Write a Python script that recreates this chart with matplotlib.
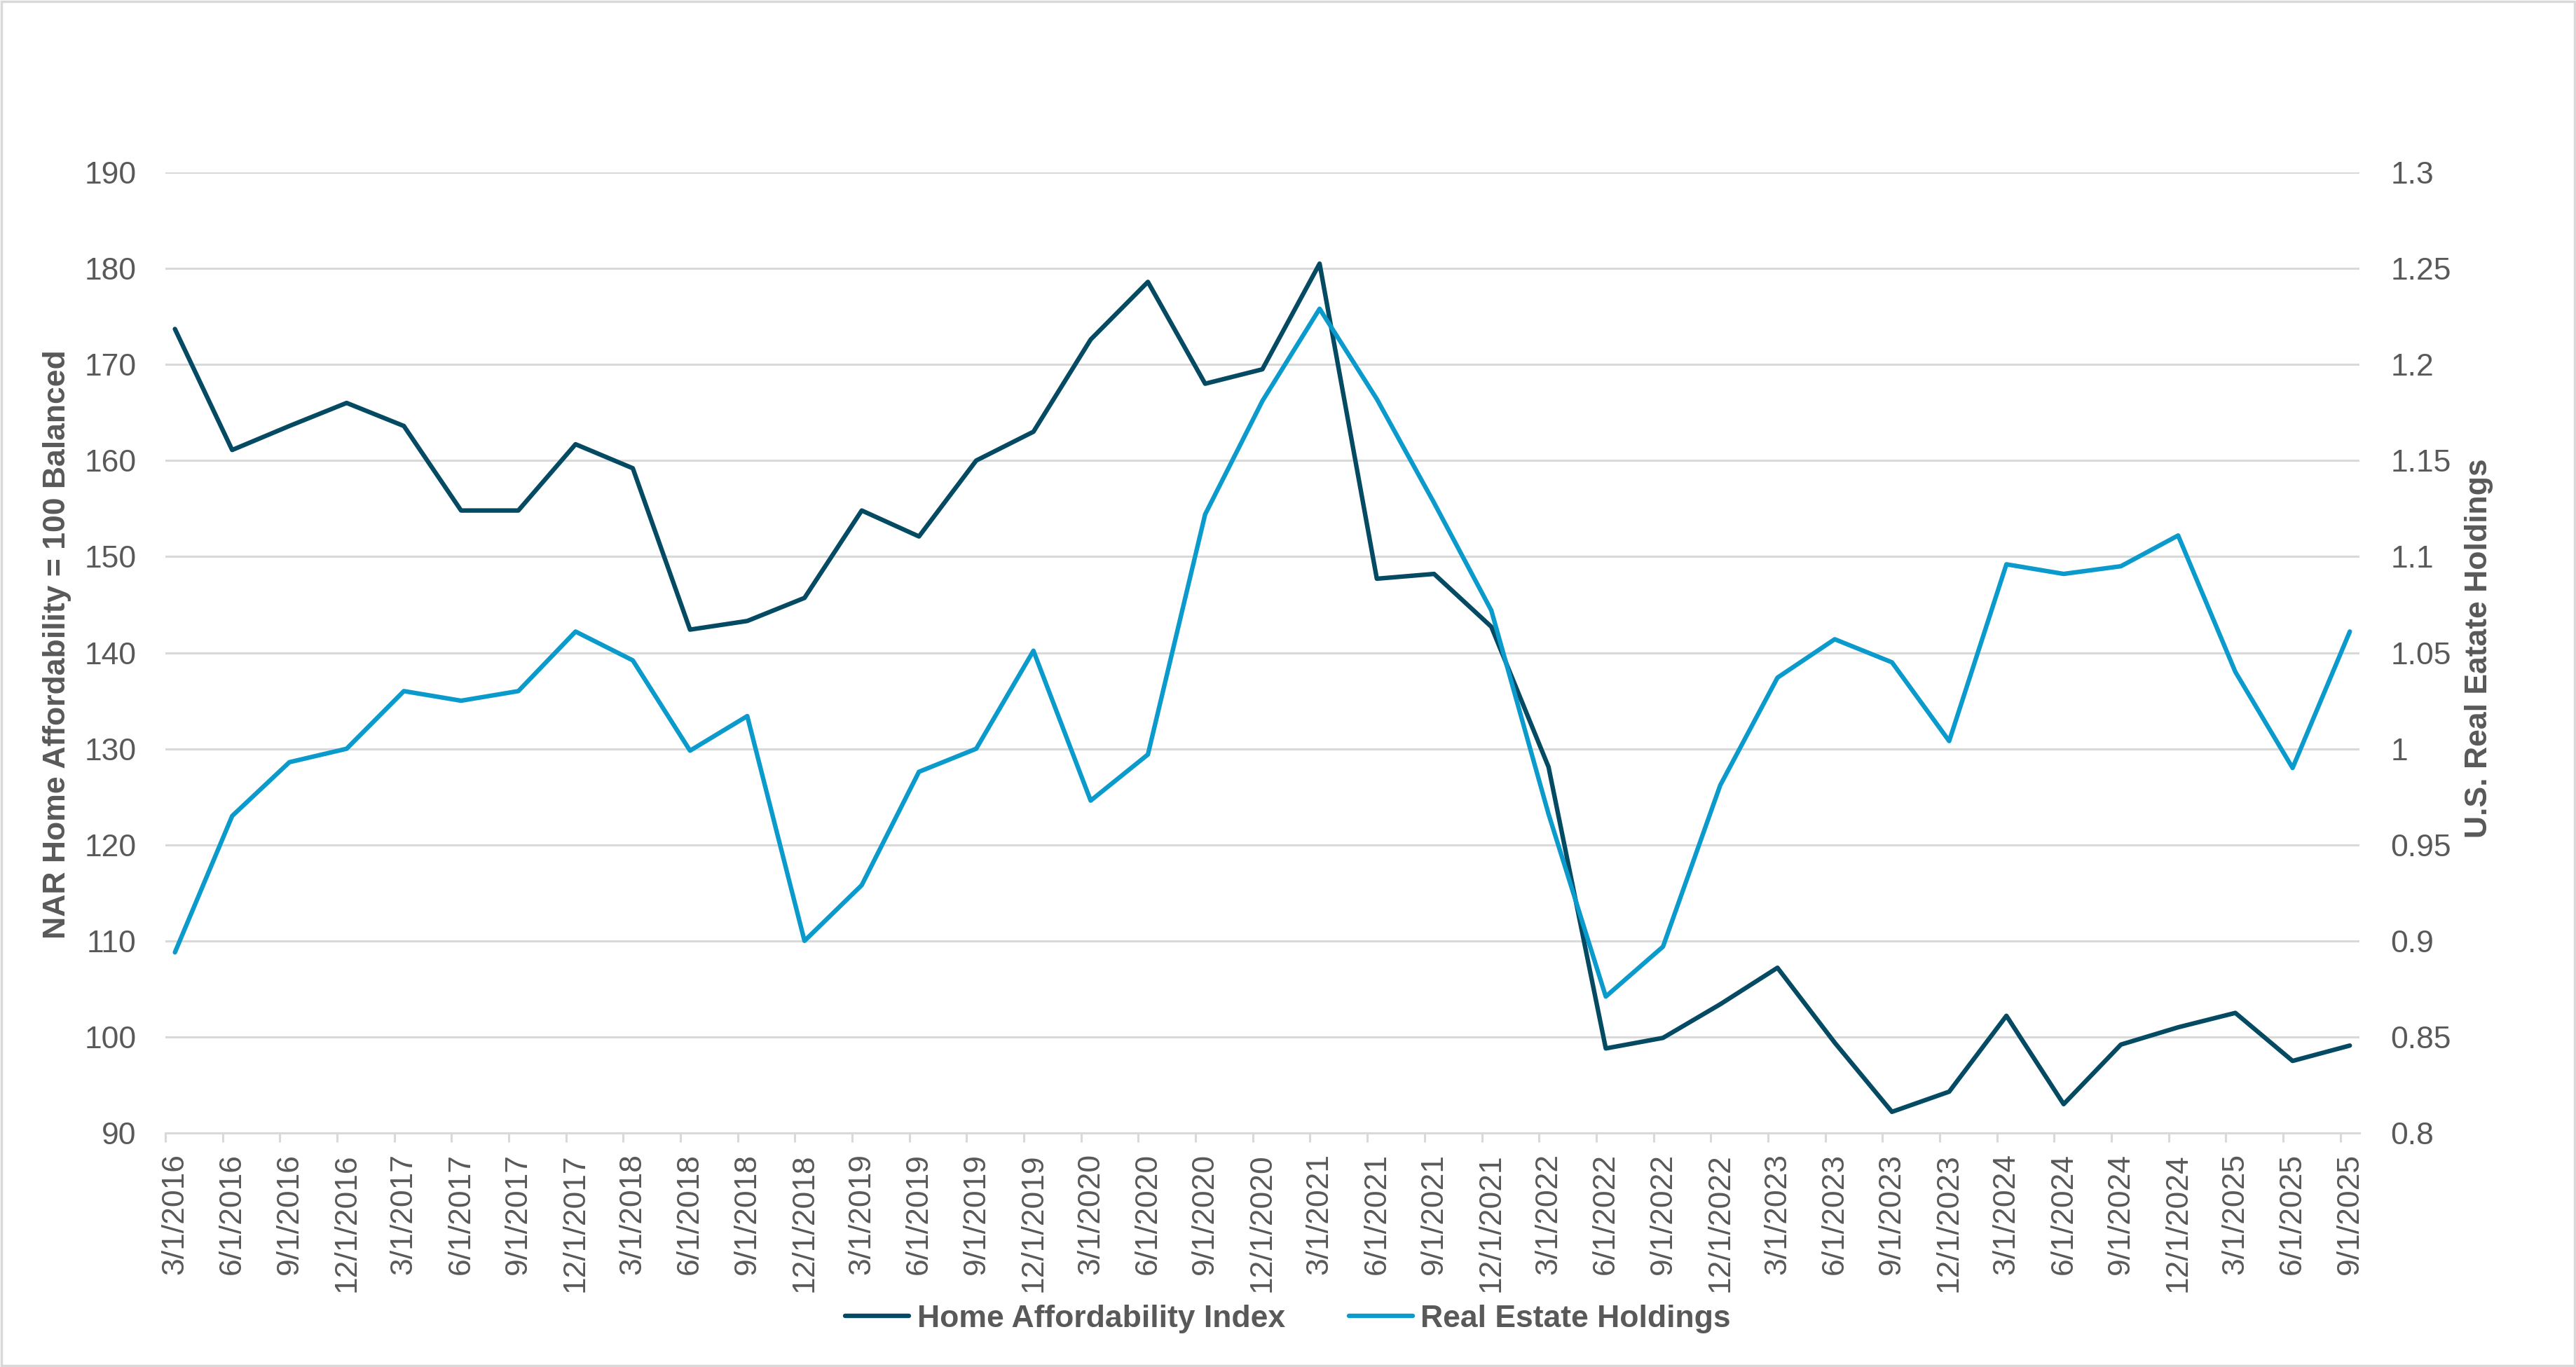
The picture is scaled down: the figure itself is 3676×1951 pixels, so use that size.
import matplotlib
matplotlib.use("Agg")
import matplotlib.pyplot as plt
from matplotlib.patches import Rectangle
from matplotlib.ticker import FixedLocator, FuncFormatter

plt.rcParams['font.family'] = ['Liberation Sans', 'DejaVu Sans']

# quarterly dates (category labels)
dates = ['3/1/2016', '6/1/2016', '9/1/2016', '12/1/2016',
         '3/1/2017', '6/1/2017', '9/1/2017', '12/1/2017',
         '3/1/2018', '6/1/2018', '9/1/2018', '12/1/2018',
         '3/1/2019', '6/1/2019', '9/1/2019', '12/1/2019',
         '3/1/2020', '6/1/2020', '9/1/2020', '12/1/2020',
         '3/1/2021', '6/1/2021', '9/1/2021', '12/1/2021',
         '3/1/2022', '6/1/2022', '9/1/2022', '12/1/2022',
         '3/1/2023', '6/1/2023', '9/1/2023', '12/1/2023',
         '3/1/2024', '6/1/2024', '9/1/2024', '12/1/2024',
         '3/1/2025', '6/1/2025', '9/1/2025']

# NAR home affordability index (left axis)
affordability = [173.7, 161.1, 163.6, 166.0,
                 163.6, 154.8, 154.8, 161.7,
                 159.2, 142.4, 143.3, 145.7,
                 154.8, 152.1, 160.0, 163.0,
                 172.6, 178.6, 168.0, 169.5,
                 180.5, 147.7, 148.2, 142.7,
                 128.1, 98.8, 99.9, 103.4,
                 107.2, 99.4, 92.2, 94.3,
                 102.2, 93.0, 99.2, 101.0,
                 102.5, 97.5, 99.1]

# U.S. real estate holdings (right axis)
holdings = [0.894, 0.965, 0.993, 1.000,
            1.030, 1.025, 1.030, 1.061,
            1.046, 0.999, 1.017, 0.900,
            0.929, 0.988, 1.000, 1.051,
            0.973, 0.997, 1.122, 1.181,
            1.229, 1.182, 1.128, 1.072,
            0.966, 0.871, 0.897, 0.981,
            1.037, 1.057, 1.045, 1.004,
            1.096, 1.091, 1.095, 1.111,
            1.040, 0.990, 1.061]

left_ticks = [90, 100, 110, 120, 130, 140, 150, 160, 170, 180, 190]
right_ticks = [0.8, 0.85, 0.9, 0.95, 1.0, 1.05, 1.1, 1.15, 1.2, 1.25, 1.3]

dark = '#034a62'
light = '#0a9acb'
grey_txt = '#595959'
grid_c = '#d9d9d9'
fs = 32

# month index of each date, so the axis behaves like an Excel date axis
months = []
for d in dates:
    m, _, y = d.split('/')
    months.append((int(y) - 2016) * 12 + int(m) - 3)

fig = plt.figure(figsize=(36.76, 19.51), dpi=100)
ax = fig.add_axes([0.0642, 0.1712, 0.9159 - 0.0642, 0.8739 - 0.1712])
ax2 = ax.twinx()

l1, = ax.plot(months, affordability, color=dark, lw=4.6,
              solid_joinstyle='round', solid_capstyle='round', zorder=3,
              label='Home Affordability Index')
l2, = ax2.plot(months, holdings, color=light, lw=4.6,
               solid_joinstyle='round', solid_capstyle='round', zorder=3,
               label='Real Estate Holdings')

ax.set_xlim(months[0] - 0.5, months[-1] + 0.5)
ax.set_ylim(90, 190)
ax2.set_ylim(0.8, 1.3)

ax.set_yticks(left_ticks)
ax2.set_yticks(right_ticks)
ax2.yaxis.set_major_formatter(FuncFormatter(lambda v, p: '{:g}'.format(round(v, 2))))

ax.yaxis.grid(True, color=grid_c, lw=2.2)
ax.set_axisbelow(True)

ax.set_xticks(months)
ax.set_xticklabels(dates, rotation=90)
ax.xaxis.set_minor_locator(FixedLocator([m - 0.5 for m in months]))
ax.tick_params(axis='x', which='major', length=0, pad=21, labelsize=fs, labelcolor=grey_txt)
ax.tick_params(axis='x', which='minor', length=9.5, width=2.2, color=grid_c, direction='out')
ax.tick_params(axis='y', length=0, pad=30, labelsize=fs, labelcolor=grey_txt)
ax2.tick_params(axis='y', length=0, pad=32, labelsize=fs, labelcolor=grey_txt)

for a in (ax, ax2):
    for s in ['top', 'left', 'right']:
        a.spines[s].set_visible(False)
    a.spines['bottom'].set_visible(False)
ax.spines['bottom'].set_visible(True)
ax.spines['bottom'].set_color(grid_c)
ax.spines['bottom'].set_linewidth(2.2)

fig.text(82 / 3676, 1 - 920 / 1951, 'NAR Home Affordability = 100 Balanced',
         rotation=90, ha='center', va='center', fontsize=fs, fontweight='bold', color=grey_txt)
fig.text(3537 / 3676, 1 - 925 / 1951, 'U.S. Real Eatate Holdings',
         rotation=90, ha='center', va='center', fontsize=fs, fontweight='bold', color=grey_txt)

leg = fig.legend(handles=[l1, l2], loc='center', bbox_to_anchor=(0.5, 1 - 1882 / 1951),
                 ncol=2, frameon=False, handlelength=2.05, handletextpad=0.25,
                 columnspacing=2.05, prop={'size': fs, 'weight': 'bold'})
for t in leg.get_texts():
    t.set_color(grey_txt)

# thin grey frame around the whole picture
fig.patches.append(Rectangle((0.0005, 0.0008), 0.999, 0.9984, transform=fig.transFigure,
                             fill=False, edgecolor=grid_c, lw=2.5))

fig.savefig('out.png', dpi=100, facecolor='white')
